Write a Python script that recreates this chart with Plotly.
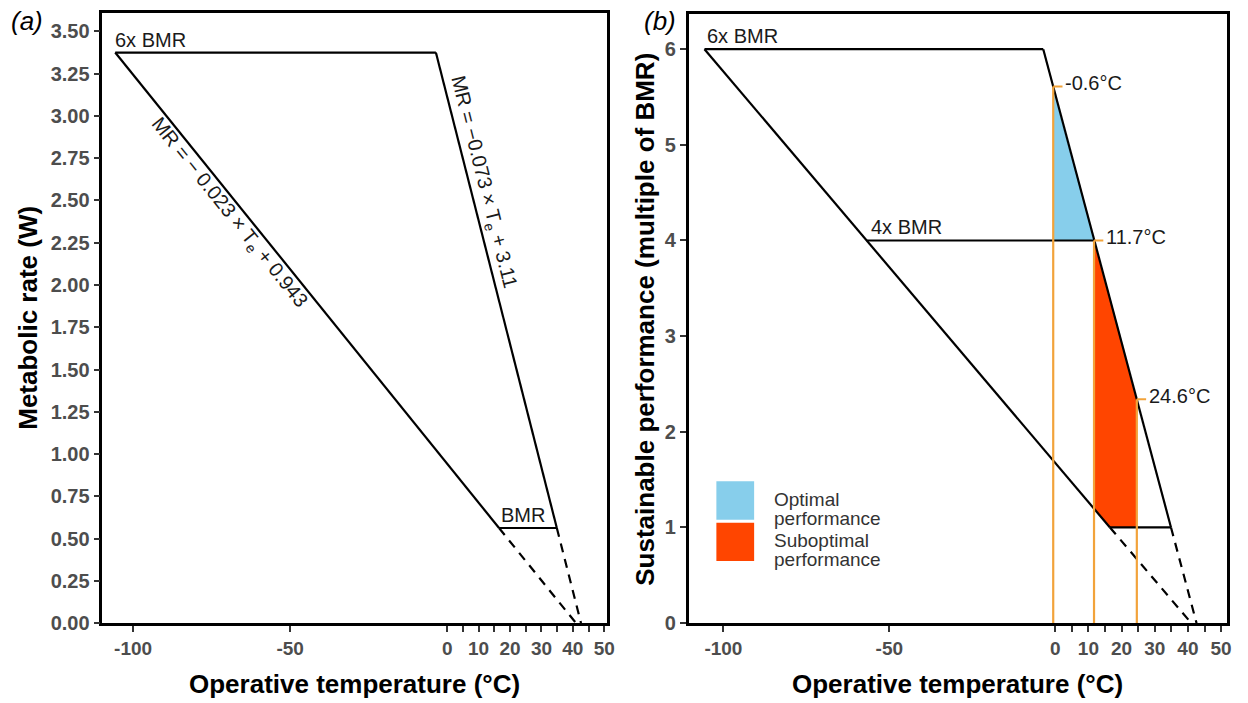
import plotly.graph_objects as go

W, H = 1248, 703
FONT = "Liberation Sans, Arial, Helvetica, sans-serif"

# ---------------- data ----------------
# Panel (a): metabolic rate (W) vs operative temperature (°C)
a_plateau_T = [-105.7, -3.6]
a_plateau_MR = [3.375, 3.375]
a_cold_T = [-105.7, 16.5]
a_cold_MR = [3.375, 0.5625]
a_warm_T = [-3.6, 34.9]
a_warm_MR = [3.375, 0.5625]
a_bmr_T = [16.5, 34.9]
a_bmr_MR = [0.5625, 0.5625]
a_cold_ext_T = [16.5, 41.0]
a_cold_ext_MR = [0.5625, 0.0]
a_warm_ext_T = [34.9, 42.6]
a_warm_ext_MR = [0.5625, 0.0]

# Panel (b): sustainable performance (multiple of BMR)
b_plateau_T = [-105.7, -3.6]
b_plateau_P = [6, 6]
b_cold_T = [-105.7, 16.5]
b_cold_P = [6, 1]
b_warm_T = [-3.6, 34.9]
b_warm_P = [6, 1]
b_4x_T = [-56.8, 11.7]
b_4x_P = [4, 4]
b_bmr_T = [16.5, 34.9]
b_bmr_P = [1, 1]
b_cold_ext_T = [16.5, 41.0]
b_cold_ext_P = [1, 0]
b_warm_ext_T = [34.9, 42.6]
b_warm_ext_P = [1, 0]

optimal_T = [-0.6, -0.6, 11.7]
optimal_P = [5.61, 4.0, 4.0]
subopt_T = [11.7, 24.6, 24.6, 16.5, 11.7]
subopt_P = [4.0, 2.34, 1.0, 1.0, 1.2]

threshold_T = [-0.6, 11.7, 24.6]
threshold_P = [5.61, 4.0, 2.34]
threshold_labels = ["-0.6°C", "11.7°C", "24.6°C"]

x_tick_vals = [-100, -50, 0, 5, 10, 15, 20, 25, 30, 35, 40, 45, 50]
x_tick_text = ["-100", "-50", "0", "", "10", "", "20", "", "30", "", "40", "", "50"]
a_y_ticks = [0, 0.25, 0.5, 0.75, 1.0, 1.25, 1.5, 1.75, 2.0, 2.25, 2.5, 2.75, 3.0, 3.25, 3.5]
b_y_ticks = [0, 1, 2, 3, 4, 5, 6]

legend_labels = [["Optimal", "performance"], ["Suboptimal", "performance"]]

# ---------------- styles ----------------
BLACK = "#000000"
ORANGE = "#F2A33A"
BLUE = "#87CEEB"
RED = "#FF4500"
LW = 2.2
DASH = "9px,7px"

fig = go.Figure()

def line(x, y, xa, ya, color=BLACK, width=LW, dash="solid"):
    fig.add_trace(go.Scatter(x=x, y=y, xaxis=xa, yaxis=ya, mode="lines",
                             line=dict(color=color, width=width, dash=dash),
                             hoverinfo="skip", showlegend=False))

# Panel a
line(a_plateau_T, a_plateau_MR, "x", "y")
line(a_cold_T, a_cold_MR, "x", "y")
line(a_warm_T, a_warm_MR, "x", "y")
line(a_bmr_T, a_bmr_MR, "x", "y")
line(a_cold_ext_T, a_cold_ext_MR, "x", "y", dash=DASH)
line(a_warm_ext_T, a_warm_ext_MR, "x", "y", dash=DASH)

# Panel b fills
fig.add_trace(go.Scatter(x=optimal_T, y=optimal_P, xaxis="x2", yaxis="y2", mode="lines",
                         fill="toself", fillcolor=BLUE, line=dict(width=0, color=BLUE),
                         hoverinfo="skip", showlegend=False))
fig.add_trace(go.Scatter(x=subopt_T, y=subopt_P, xaxis="x2", yaxis="y2", mode="lines",
                         fill="toself", fillcolor=RED, line=dict(width=0, color=RED),
                         hoverinfo="skip", showlegend=False))

line(b_plateau_T, b_plateau_P, "x2", "y2")
line(b_cold_T, b_cold_P, "x2", "y2")
line(b_warm_T, b_warm_P, "x2", "y2")
line(b_4x_T, b_4x_P, "x2", "y2")
line(b_bmr_T, b_bmr_P, "x2", "y2")
line(b_cold_ext_T, b_cold_ext_P, "x2", "y2", dash=DASH)
line(b_warm_ext_T, b_warm_ext_P, "x2", "y2", dash=DASH)

# orange threshold lines
vx, vy, hx, hy = [], [], [], []
for t, p in zip(threshold_T, threshold_P):
    vx += [t, t, None]
    vy += [0, p, None]
    hx += [t, t + 2.8, None]
    hy += [p, p, None]
line(vx, vy, "x2", "y2", color=ORANGE, width=2.2)
line(hx, hy, "x2", "y2", color=ORANGE, width=2.2)

annotations = []
TXT = dict(family=FONT, size=20, color="#1a1a1a")

def ann(text, x, y, xref, yref, **kw):
    d = dict(text=text, x=x, y=y, xref=xref, yref=yref, showarrow=False,
             font=kw.pop("font", TXT), xanchor=kw.pop("xanchor", "center"),
             yanchor=kw.pop("yanchor", "middle"))
    d.update(kw)
    annotations.append(d)

# panel a labels
ann("6x BMR", a_plateau_T[0], a_plateau_MR[0], "x", "y", xanchor="left", yanchor="bottom", xshift=-2)
ann("BMR", a_bmr_T[0], a_bmr_MR[0], "x", "y", xanchor="left", yanchor="bottom")
ann("MR = − 0.023 × T<sub>e</sub> + 0.943", -69.6, 2.43, "x", "y", textangle=51.35)
ann("MR = −0.073 × T<sub>e</sub> + 3.11", 11.3, 2.61, "x", "y", textangle=75.85)

# panel b labels
ann("6x BMR", b_plateau_T[0], b_plateau_P[0], "x2", "y2", xanchor="left", yanchor="bottom", xshift=1)
ann("4x BMR", b_4x_T[0], b_4x_P[0], "x2", "y2", xanchor="left", yanchor="bottom", xshift=2)
for t, p, lab in zip(threshold_T, threshold_P, threshold_labels):
    ann(lab, t, p, "x2", "y2", xanchor="left", yanchor="middle", xshift=10, yshift=3)

# axis titles and panel tags
TITLE = dict(family=FONT, size=26, color="#000000", weight="bold")
ann("Operative temperature (°C)", 357 / W, 1 - 695 / H, "paper", "paper", font=TITLE)
ann("Operative temperature (°C)", 964 / W, 1 - 695 / H, "paper", "paper", font=TITLE)
ann("Metabolic rate (W)", 28 / W, 1 - 323 / H, "paper", "paper", font=TITLE, textangle=-90)
ann("Sustainable performance (multiple of BMR)", 649 / W, 1 - 324 / H, "paper", "paper",
    font=TITLE, textangle=-90)
TAG = dict(family=FONT, size=26, color="#000000", style="italic")
ann("(a)", 27 / W, 1 - 21 / H, "paper", "paper", font=TAG)
ann("(b)", 664 / W, 1 - 21 / H, "paper", "paper", font=TAG)

# legend (manual)
LEG = dict(family=FONT, size=19, color="#333333")
shapes = []
leg_colors = [BLUE, RED]
for i, (col, labs) in enumerate(zip(leg_colors, legend_labels)):
    top = 489 + i * 42
    shapes.append(dict(type="rect", xref="paper", yref="paper",
                       x0=721 / W, x1=759 / W, y0=1 - (top + 39) / H, y1=1 - top / H,
                       fillcolor=col, line=dict(width=0)))
    for j, lab in enumerate(labs):
        ann(lab, 777 / W, 1 - (top + 18 + j * 19.5) / H, "paper", "paper",
            xanchor="left", yanchor="middle", font=LEG)

TICKFONT = dict(family=FONT, size=19, color="#4D4D4D", weight="bold")
common_x = dict(showline=True, mirror=True, linecolor=BLACK, linewidth=2.5,
                ticks="outside", ticklen=6, tickwidth=1.5, tickcolor="#333333",
                tickfont=TICKFONT, showgrid=False, zeroline=False,
                tickvals=x_tick_vals, ticktext=x_tick_text)
common_y = dict(showline=True, mirror=True, linecolor=BLACK, linewidth=2.5,
                ticks="outside", ticklen=6, tickwidth=1.5, tickcolor="#333333",
                tickfont=dict(TICKFONT, size=20), showgrid=False, zeroline=False)

fig.update_layout(
    width=W, height=H, autosize=False,
    margin=dict(l=0, r=0, t=0, b=0),
    paper_bgcolor="white", plot_bgcolor="white",
    showlegend=False,
    xaxis=dict(domain=[103 / W, 611 / W], range=[-109.8, 50.9], anchor="y", **common_x),
    yaxis=dict(domain=[1 - 633 / H, 1 - 13 / H], range=[0, 3.61], anchor="x",
               tickvals=a_y_ticks, tickformat=".2f", **common_y),
    xaxis2=dict(domain=[693 / W, 1235 / W], range=[-110.5, 51.8], anchor="y2", **common_x),
    yaxis2=dict(domain=[1 - 633 / H, 1 - 14 / H], range=[0, 6.37], anchor="x2",
                tickvals=b_y_ticks, **common_y),
    annotations=annotations,
    shapes=shapes,
    font=dict(family=FONT),
)

fig.write_html("out.html", config={"displayModeBar": False},
               post_script="document.body.style.margin='0';document.body.style.overflow='hidden';")
